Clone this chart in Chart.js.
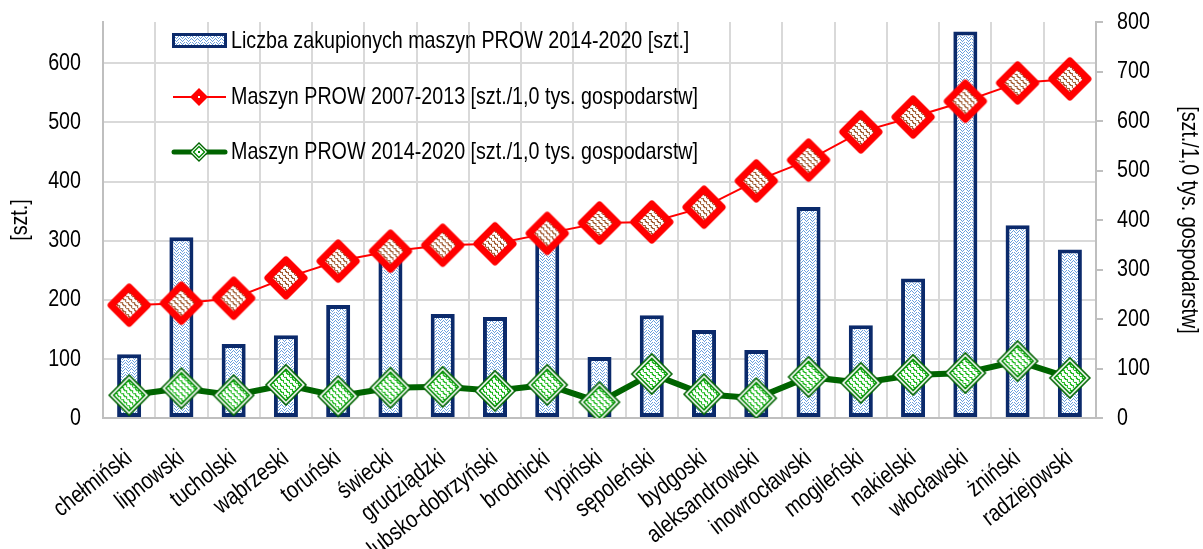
<!DOCTYPE html>
<html>
<head>
<meta charset="utf-8">
<script src="https://cdn.jsdelivr.net/npm/chart.js@4.4.1/dist/chart.umd.min.js"></script>
<style>
  html, body { margin: 0; padding: 0; background: #fff; }
  #wrap { width: 1203px; height: 549px; }
</style>
</head>
<body>
<div id="wrap"><canvas id="chart" width="1203" height="549"></canvas></div>
<script>
const categories = ['chełmiński', 'lipnowski', 'tucholski', 'wąbrzeski', 'toruński', 'świecki',
  'grudziądzki', 'golubsko-dobrzyński', 'brodnicki', 'rypiński', 'sępoleński', 'bydgoski',
  'aleksandrowski', 'inowrocławski', 'mogileński', 'nakielski', 'włocławski', 'żniński', 'radziejowski'];
const machines2014 = [108, 306, 125, 140, 191, 278, 176, 171, 300, 103, 174, 149, 115, 357, 157, 236, 654, 326, 285];
const perFarm2007 = [228, 232, 242, 283, 317, 337, 349, 352, 373, 394, 396, 426, 479, 521, 578, 608, 640, 677, 685];
const perFarm2014 = [46, 60, 46, 67, 44, 61, 63, 55, 67, 32, 89, 48, 40, 83, 71, 87, 91, 115, 81];
const leftTicks = [0, 100, 200, 300, 400, 500, 600];
const rightTicks = [0, 100, 200, 300, 400, 500, 600, 700, 800];
const legendLabels = [
  'Liczba zakupionych maszyn PROW 2014-2020 [szt.]',
  'Maszyn PROW 2007-2013 [szt./1,0 tys. gospodarstw]',
  'Maszyn PROW 2014-2020 [szt./1,0 tys. gospodarstw]'
];

const FONT = "'Liberation Sans', Arial, sans-serif";
Chart.defaults.font.family = FONT;
Chart.defaults.font.size = 24;
Chart.defaults.color = '#000';

const ctx0 = document.getElementById('chart').getContext('2d');

// no narrow font installed: squeeze Liberation Sans horizontally (Arial Narrow look)
const NARROW = 0.82;
const plainFill = ctx0.fillText;
ctx0.fillText = function (t, x, y, maxW) {
  this.save();
  this.translate(x, y);
  this.scale(NARROW, 1);
  if (maxW === undefined) plainFill.call(this, t, 0, 0);
  else plainFill.call(this, t, 0, 0, maxW / NARROW);
  this.restore();
};

// small tiles used as fills
function tile(w, h, fg, pts) {
  const c = document.createElement('canvas');
  c.width = w; c.height = h;
  const g = c.getContext('2d');
  g.fillStyle = '#fff';
  g.fillRect(0, 0, w, h);
  g.fillStyle = fg;
  pts.forEach(([x, y]) => g.fillRect(x, y, 1, 1));
  return c;
}
const barTile = tile(6, 6, '#6a9fdc', [[0,0],[1,1],[2,2],[3,1],[4,0],[0,3],[1,4],[2,5],[3,4],[4,3],[5,2]]);
const barPattern = ctx0.createPattern(barTile, 'repeat');
const brownTile = tile(6, 6, '#9a5226', [[0,0],[1,0],[2,0],[2,1],[2,2],[3,3],[4,3],[5,3],[5,4],[5,5],[0,5]]);
const greenTile = tile(6, 6, '#12b512', [[0,0],[1,0],[2,0],[2,1],[2,2],[3,3],[4,3],[5,3],[5,4],[5,5],[0,5]]);

function diamond(g, cx, cy, r) {
  g.beginPath();
  g.moveTo(cx - r, cy);
  g.lineTo(cx, cy - r);
  g.lineTo(cx + r, cy);
  g.lineTo(cx, cy + r);
  g.closePath();
}

// red marker
const redMarker = document.createElement('canvas');
redMarker.width = 48; redMarker.height = 48;
(function () {
  const g = redMarker.getContext('2d');
  diamond(g, 24, 24, 18);
  g.fillStyle = g.createPattern(brownTile, 'repeat');
  g.fill();
  g.lineJoin = 'round';
  g.lineWidth = 7;
  g.strokeStyle = '#ff0000';
  g.stroke();
})();

// green marker with double outline
const greenMarker = document.createElement('canvas');
greenMarker.width = 46; greenMarker.height = 46;
(function () {
  const g = greenMarker.getContext('2d');
  diamond(g, 23, 23, 20);
  g.fillStyle = '#fff';
  g.fill();
  g.lineWidth = 1.6;
  g.strokeStyle = '#006400';
  g.stroke();
  diamond(g, 23, 23, 15.5);
  g.fillStyle = g.createPattern(greenTile, 'repeat');
  g.fill();
  g.strokeStyle = '#008a00';
  g.stroke();
})();

const boxLegend = {
  id: 'boxLegend',
  afterDraw(chart) {
    const c = chart.ctx;
    c.save();
    // bars
    c.fillStyle = '#0b2a6b';
    c.fillRect(172, 33, 55, 15);
    c.fillStyle = barPattern;
    c.fillRect(175, 36, 49, 9);
    // red line
    c.strokeStyle = '#ff0000';
    c.lineWidth = 2;
    c.beginPath(); c.moveTo(173, 97); c.lineTo(226, 97); c.stroke();
    diamond(c, 199, 97, 9);
    c.fillStyle = '#ff0000';
    c.fill();
    c.fillStyle = '#fff';
    c.fillRect(198, 96, 2, 2);
    // green line
    c.strokeStyle = '#006400';
    c.lineWidth = 5;
    c.lineCap = 'round';
    c.beginPath(); c.moveTo(174, 152); c.lineTo(225, 152); c.stroke();
    diamond(c, 199, 152, 9);
    c.fillStyle = '#fff';
    c.fill();
    c.lineWidth = 1.4;
    c.strokeStyle = '#006400';
    c.stroke();
    diamond(c, 199, 152, 5.5);
    c.strokeStyle = '#008a00';
    c.stroke();
    c.fillStyle = '#008a00';
    c.fillRect(198, 151, 2, 2);
    // texts
    c.fillStyle = '#000';
    c.font = '24px ' + FONT;
    c.textBaseline = 'middle';
    c.fillText(legendLabels[0], 231, 41);
    c.fillText(legendLabels[1], 231, 97);
    c.fillText(legendLabels[2], 231, 152);
    c.restore();
  }
};

new Chart(ctx0, {
  data: {
    labels: categories,
    datasets: [
      {
        type: 'bar',
        label: legendLabels[0],
        data: machines2014,
        yAxisID: 'y',
        backgroundColor: barPattern,
        borderColor: '#0b2a6b',
        borderWidth: 4,
        borderSkipped: false,
        barPercentage: 0.46,
        categoryPercentage: 1,
        order: 3
      },
      {
        type: 'line',
        label: legendLabels[1],
        data: perFarm2007,
        yAxisID: 'y2',
        borderColor: '#ff0000',
        borderWidth: 2,
        pointStyle: redMarker,
        order: 1
      },
      {
        type: 'line',
        label: legendLabels[2],
        data: perFarm2014,
        yAxisID: 'y2',
        borderColor: '#006400',
        borderWidth: 6,
        pointStyle: greenMarker,
        order: 2
      }
    ]
  },
  options: {
    responsive: false,
    animation: false,
    layout: { padding: { top: 22, left: 0, right: 0, bottom: 0 } },
    plugins: { legend: { display: false }, tooltip: { enabled: false } },
    scales: {
      x: {
        offset: true,
        grid: { offset: true, color: '#d9d9d9', lineWidth: 2, drawTicks: false },
        border: { color: '#bfbfbf', width: 2 },
        ticks: { autoSkip: false, minRotation: 38, maxRotation: 38, padding: 26 },
        afterFit: s => { s.height = 131; }
      },
      y: {
        position: 'left',
        min: 0,
        max: 670,
        afterBuildTicks: s => { s.ticks = leftTicks.map(v => ({ value: v })); },
        grid: { color: '#d9d9d9', lineWidth: 2, drawTicks: false },
        border: { color: '#bfbfbf', width: 2 },
        ticks: { padding: 22 },
        title: { display: true, text: '[szt.]', padding: { top: 6, bottom: 0 } },
        afterFit: s => { s.width = 103; s.paddingTop = 0; s.paddingBottom = 0; }
      },
      y2: {
        position: 'right',
        min: 0,
        max: 800,
        afterBuildTicks: s => { s.ticks = rightTicks.map(v => ({ value: v })); },
        grid: { drawOnChartArea: false, drawTicks: true, tickLength: 7, color: '#bfbfbf', lineWidth: 2 },
        border: { color: '#bfbfbf', width: 2 },
        ticks: { padding: 14 },
        title: { display: true, text: '[szt./1,0 tys. gospodarstw]', padding: { top: 0, bottom: 0 } },
        afterFit: s => { s.width = 107; s.paddingTop = 0; s.paddingBottom = 0; }
      }
    }
  },
  plugins: [boxLegend]
});
</script>
</body>
</html>
